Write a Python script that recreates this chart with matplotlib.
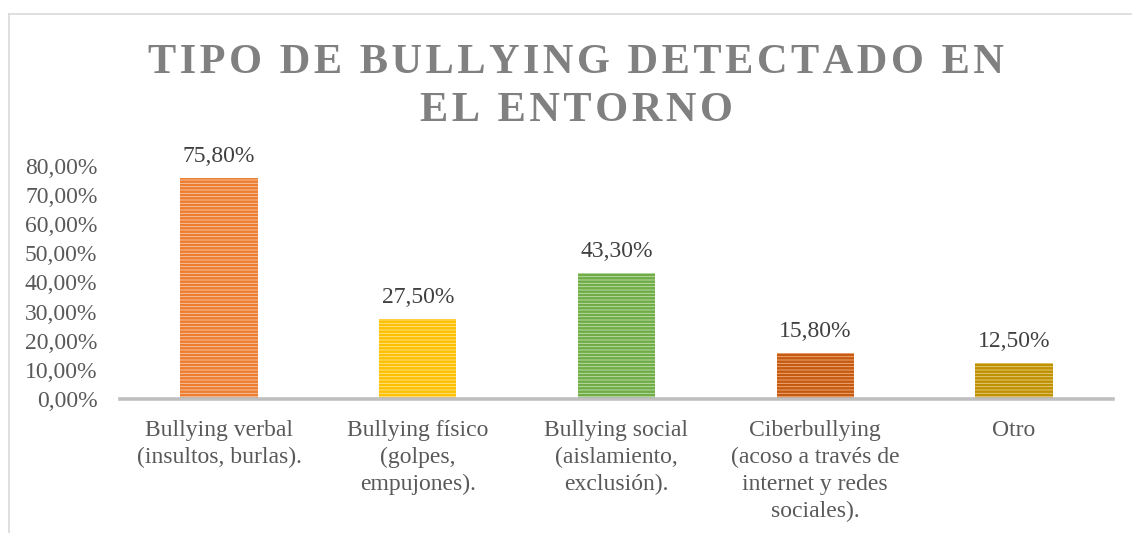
import matplotlib
matplotlib.use("Agg")
import matplotlib.pyplot as plt
from matplotlib.lines import Line2D

categories = ["Bullying verbal\n(insultos, burlas).",
              "Bullying físico\n(golpes,\nempujones).",
              "Bullying social\n(aislamiento,\nexclusión).",
              "Ciberbullying\n(acoso a través de\ninternet y redes\nsociales).",
              "Otro"]
values = [75.8, 27.5, 43.3, 15.8, 12.5]
value_labels = ["75,80%", "27,50%", "43,30%", "15,80%", "12,50%"]
yticks = [0, 10, 20, 30, 40, 50, 60, 70, 80]
ytick_labels = ["0,00%", "10,00%", "20,00%", "30,00%", "40,00%",
                "50,00%", "60,00%", "70,00%", "80,00%"]
title = "TIPO DE BULLYING DETECTADO EN\nEL ENTORNO"

face_colors = ["#F8CBAD", "#FFE699", "#C5E0B4", "#F4B183", "#E8D188"]
stripe_colors = ["#ED7D31", "#FFC000", "#70AD47", "#C55A11", "#BF9000"]

plt.rcParams['font.family'] = 'Liberation Serif'
plt.rcParams['hatch.linewidth'] = 1.8

W, H = 1132, 533
fig = plt.figure(figsize=(W / 100, H / 100), dpi=100)
ax = fig.add_axes([119.6 / W, 1 - 399 / H, (1113.4 - 119.6) / W, (399 - 166) / H])

x = list(range(len(categories)))
for i, v in enumerate(values):
    ax.bar(x[i], v, width=0.39, color=face_colors[i], edgecolor=stripe_colors[i],
           hatch='-----', linewidth=0, zorder=2)
    ax.text(x[i], v + 3.8, value_labels[i], ha='center', va='bottom',
            fontsize=17, color='#404040')

ax.set_xlim(-0.5, len(categories) - 0.5)
ax.set_ylim(0, 80)
ax.set_yticks(yticks)
ax.set_yticklabels(ytick_labels)
ax.set_xticks(x)
ax.set_xticklabels(categories, linespacing=1.37)
ax.tick_params(axis='y', length=0, pad=16, labelsize=17, labelcolor='#595959')
ax.tick_params(axis='x', length=0, pad=15, labelsize=17, labelcolor='#595959')
for s in ['top', 'right', 'left']:
    ax.spines[s].set_visible(False)
ax.spines['bottom'].set_color('#BFBFBF')
ax.spines['bottom'].set_linewidth(2.6)
ax.spines['bottom'].set_zorder(3)
for t in ax.get_yticklabels():
    t.set_verticalalignment('center_baseline')

# chart frame (cropped: only left and top visible)
fig.add_artist(Line2D([8.5 / W, 8.5 / W], [0, 1 - 13.5 / H], color='#D9D9D9', lw=1.2))
fig.add_artist(Line2D([8.5 / W, 1], [1 - 13.5 / H, 1 - 13.5 / H], color='#D9D9D9', lw=1.2))

hs = '\u200a'
spaced = '\n'.join(hs.join(line) for line in title.split('\n'))
fig.text(576 / W, 1 - 87 / H, spaced, ha='center', va='center', fontsize=30.5,
         fontweight='bold', color='#808080', linespacing=1.36)

fig.savefig("out.png", dpi=100)
